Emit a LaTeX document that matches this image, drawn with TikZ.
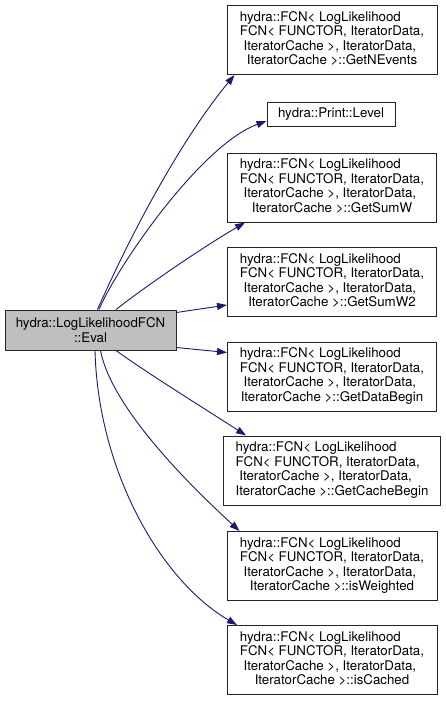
\documentclass[tikz,border=0pt]{standalone}
\usepackage{fontspec}
\setmainfont{TeX Gyre Heros}
\usetikzlibrary{arrows.meta}
\definecolor{edgeblue}{HTML}{191970}
\definecolor{evalgray}{HTML}{BFBFBF}
\newcommand{\fcnlabel}[1]{\begin{tabular}{@{}l@{}}hydra::FCN< LogLikelihood\\FCN< FUNCTOR, IteratorData,\\\ IteratorCache >, IteratorData,\\\multicolumn{1}{@{}c@{}}{IteratorCache >::#1}\end{tabular}}
\begin{document}
\begin{tikzpicture}[x=1pt, y=-1pt,
		box/.style={draw=black!85, line width=1pt, rectangle, inner sep=0pt, font=\fontsize{13.3}{14.6}\selectfont},
		fcnbox/.style={box, minimum height=69pt},
		call/.style={draw=edgeblue, line width=0.9pt, -{Triangle[length=10pt, width=7pt]}}]
		\useasboundingbox (0, 0) rectangle (445, 701);
		\node[box, fill=evalgray, minimum width=171pt, minimum height=40pt, align=center] (eval) at (90.5, 330) {hydra::LogLikelihoodFCN\\::Eval};
		\node[box, minimum width=128pt, minimum height=24pt] (level) at (331, 114) {hydra::Print::Level};
		\foreach \name/\fn/\ypos/\boxwd in {nevents/GetNEvents/40/210, sumw/GetSumW/187.5/209, sumw2/GetSumW2/282/209, databegin/GetDataBegin/376.5/209, cachebegin/GetCacheBegin/470.5/217, weighted/isWeighted/566/210, cached/isCached/660/210}{
			\node[fcnbox, minimum width=\boxwd pt] (\name) at (332, \ypos) {\fcnlabel{\fn}};
		}
		\draw[call] ([xshift=7pt]eval.north) .. controls (135, 225) and (184, 136) .. ([xshift=8pt]nevents.south west);
		\draw[call] ([xshift=8.5pt]eval.north) .. controls (118, 265) and (201, 145) .. ([yshift=-7pt]level.west);
		\draw[call] ([xshift=25.5pt]eval.north) .. controls (150, 283) and (205, 246) .. ([xshift=18pt]sumw.south west);
		\draw[call] ([yshift=-3pt]eval.north east) -- ([yshift=-23pt]sumw2.west);
		\draw[call] ([yshift=3pt]eval.south east) -- ([yshift=-11pt]databegin.north west);
		\draw[call] ([xshift=25.5pt]eval.south) .. controls (150, 375) and (210, 412) .. ([xshift=23pt]cachebegin.north west);
		\draw[call] ([xshift=10pt]eval.south) .. controls (112, 410) and (195, 490) .. ([xshift=13pt]weighted.north west);
		\draw[call] ([xshift=4.5pt]eval.south) .. controls (98, 470) and (160, 580) .. ([xshift=10.5pt]cached.north west);
	\end{tikzpicture}
\end{document}
